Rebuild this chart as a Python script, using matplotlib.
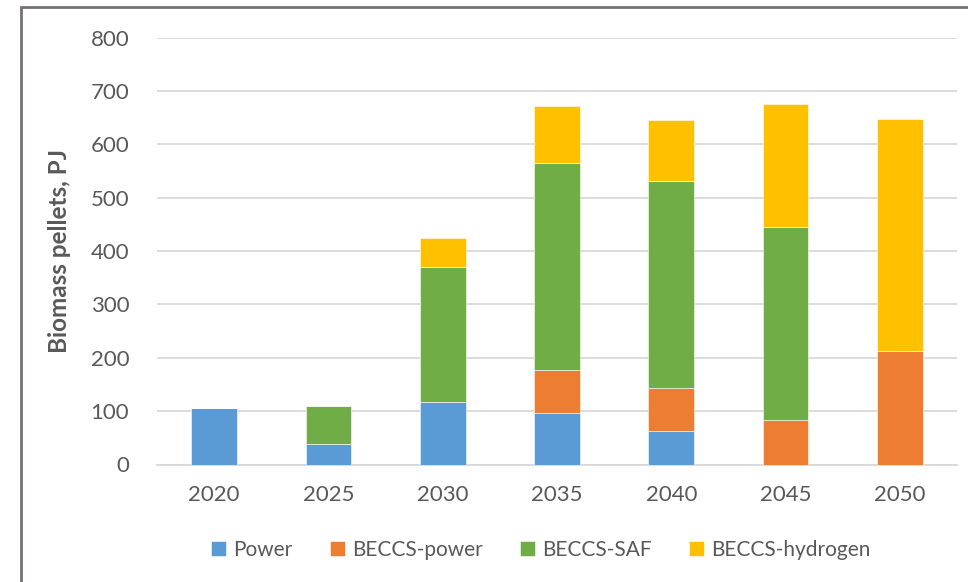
import matplotlib.pyplot as plt
from matplotlib.patches import Rectangle
import numpy as np

plt.rcParams['font.family'] = ['Lato', 'DejaVu Sans']

years = ['2020', '2025', '2030', '2035', '2040', '2045', '2050']
power = [106, 39, 118, 96, 62, 0, 0]
beccs_power = [0, 0, 0, 81, 81, 83, 212]
beccs_saf = [0, 71, 252, 389, 389, 363, 0]
beccs_h2 = [0, 0, 54, 107, 114, 230, 436]

series = [
    ('Power', power, '#5B9BD5'),
    ('BECCS-power', beccs_power, '#ED7D31'),
    ('BECCS-SAF', beccs_saf, '#70AD47'),
    ('BECCS-hydrogen', beccs_h2, '#FFC000'),
]

fig = plt.figure(figsize=(9.68, 5.82), dpi=100)
ax = fig.add_axes([157 / 968, 1 - 464.5 / 582, 800 / 968, (464.5 - 37.8) / 582])

x = np.arange(len(years))
bottom = np.zeros(len(years))
for name, vals, col in series:
    vals = np.array(vals, dtype=float)
    ax.bar(x, vals, 0.4, bottom=bottom, color=col, label=name,
           edgecolor='white', linewidth=0.4, zorder=3)
    bottom += vals

ax.set_xlim(-0.5, len(years) - 0.5)
ax.set_ylim(0, 800)
ax.set_yticks(range(0, 801, 100))
ax.set_xticks(x)
ax.set_xticklabels(years)
ax.grid(axis='y', color='#D9D9D9', linewidth=1.3, zorder=0)
for s in ['top', 'right', 'left']:
    ax.spines[s].set_visible(False)
ax.spines['bottom'].set_color('#D9D9D9')
ax.spines['bottom'].set_linewidth(1.3)
ax.tick_params(axis='both', length=0, labelsize=16, colors='#595959')
ax.tick_params(axis='y', pad=20)
ax.tick_params(axis='x', pad=15)

ax.set_ylabel('Biomass pellets, PJ', fontsize=17.5, fontweight='bold',
              color='#595959', labelpad=14)

ax.legend(loc='center', bbox_to_anchor=(541 / 968, 1 - 550 / 582),
          bbox_transform=fig.transFigure, ncol=4, frameon=False,
          fontsize=15, handlelength=0.7, handleheight=0.7,
          handletextpad=0.35, columnspacing=1.8, labelcolor='#595959')

# chart area frame
fig.patches.append(Rectangle((21 / 968, -0.05), 1.2, 1 - 7 / 582 + 0.05,
                             transform=fig.transFigure, fill=False,
                             edgecolor='#767171', linewidth=2))

fig.savefig('out.png', dpi=100)
